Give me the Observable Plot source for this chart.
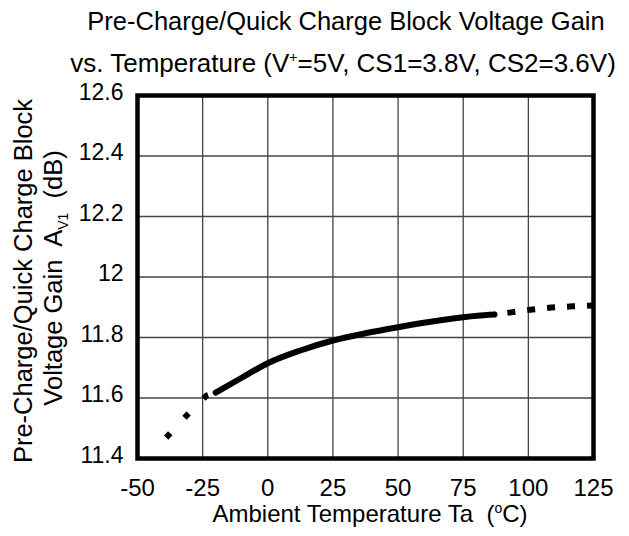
<!DOCTYPE html>
<html>
<head>
<meta charset="utf-8">
<script src="https://cdn.jsdelivr.net/npm/d3@7"></script>
<script src="https://cdn.jsdelivr.net/npm/@observablehq/plot@0.6"></script>
<style>
  html, body { margin: 0; padding: 0; background: #fff; }
</style>
</head>
<body>
<div id="chart"></div>
<script>
const xTicks = [-50, -25, 0, 25, 50, 75, 100, 125];
const yTicks = [11.4, 11.6, 11.8, 12, 12.2, 12.4, 12.6];
const yTickLabels = ["11.4", "11.6", "11.8", "12", "12.2", "12.4", "12.6"];

// measured (solid) segment
const solidTemp = [-20, -10, 0, 12.5, 25, 37.5, 50, 62.5, 75, 85, 87];
const solidGain = [11.618, 11.667, 11.715, 11.757, 11.790, 11.814, 11.834, 11.852, 11.867, 11.875, 11.876];
// extrapolated (dotted) segments
const lowTemp = [-39, -30.4, -23.5, -20];
const lowGain = [11.469, 11.549, 11.608, 11.618];
const highTemp = [87, 93.5, 100.8, 108.9, 117, 125];
const highGain = [11.876, 11.883, 11.892, 11.899, 11.903, 11.906];

const toRows = (xs, ys) => xs.map((x, i) => ({x, y: ys[i]}));
const solid = toRows(solidTemp, solidGain);
const low = toRows(lowTemp, lowGain);
const high = toRows(highTemp, highGain);

const W = 629, H = 536;
const font = "'Liberation Sans', Arial, sans-serif";
const svg = Plot.plot({
  width: W,
  height: H,
  marginLeft: 137,
  marginRight: 36,
  marginTop: 95,
  marginBottom: 78,
  style: {fontFamily: font, fontSize: "24px", color: "#000", background: "#fff", overflow: "visible"},
  x: {domain: [-50, 125]},
  y: {domain: [11.4, 12.6]},
  marks: [
    Plot.ruleX(xTicks.slice(1, -1), {stroke: "#444", strokeWidth: 1.3}),
    Plot.ruleY(yTicks.slice(1, -1), {stroke: "#444", strokeWidth: 1.3}),
    Plot.line(solid, {x: "x", y: "y", stroke: "#000", strokeWidth: 6, curve: "monotone-x"}),
    Plot.line(low, {x: "x", y: "y", stroke: "#000", strokeWidth: 6, strokeDasharray: "6,21", strokeLinecap: "butt"}),
    Plot.line(high, {x: "x", y: "y", stroke: "#000", strokeWidth: 6, strokeDasharray: "8,12", strokeDashoffset: 7, strokeLinecap: "butt"}),
    Plot.frame({stroke: "#000", strokeWidth: 4.5}),
    Plot.axisX({ticks: xTicks, tickSize: 0, tickPadding: 20, tickFormat: d => String(d), label: null, fontSize: 24}),
    Plot.axisY({ticks: yTicks, tickSize: 0, tickPadding: 14, tickFormat: d => yTickLabels[yTicks.indexOf(d)], label: null, dy: -3, fontSize: 23})
  ]
});

const s = d3.select(svg);

s.append("text").attr("x", 346).attr("y", 30).attr("text-anchor", "middle")
  .style("font-family", font).style("font-size", "25.5px")
  .text("Pre-Charge/Quick Charge Block Voltage Gain");

const t2 = s.append("text").attr("x", 343).attr("y", 72).attr("text-anchor", "middle")
  .style("font-family", font).style("font-size", "26px");
t2.append("tspan").text("vs. Temperature (V");
t2.append("tspan").attr("dy", -10).style("font-size", "14px").text("+");
t2.append("tspan").attr("dy", 10).text("=5V, CS1=3.8V, CS2=3.6V)");

const xl = s.append("text").attr("x", 370).attr("y", 522).attr("text-anchor", "middle")
  .style("font-family", font).style("font-size", "24px");
xl.append("tspan").text("Ambient Temperature Ta  (");
xl.append("tspan").attr("dy", -9).style("font-size", "14px").text("o");
xl.append("tspan").attr("dy", 9).text("C)");

s.append("text").attr("transform", "translate(32,281) rotate(-90)").attr("text-anchor", "middle")
  .style("font-family", font).style("font-size", "25.5px")
  .text("Pre-Charge/Quick Charge Block");

const yl2 = s.append("text").attr("transform", "translate(62,278) rotate(-90)").attr("text-anchor", "middle")
  .style("font-family", font).style("font-size", "25.5px");
yl2.append("tspan").text("Voltage Gain  A");
yl2.append("tspan").attr("dy", 6).style("font-size", "14px").text("V1");
yl2.append("tspan").attr("dy", -6).text("  (dB)");

document.getElementById("chart").appendChild(svg);
</script>
</body>
</html>
